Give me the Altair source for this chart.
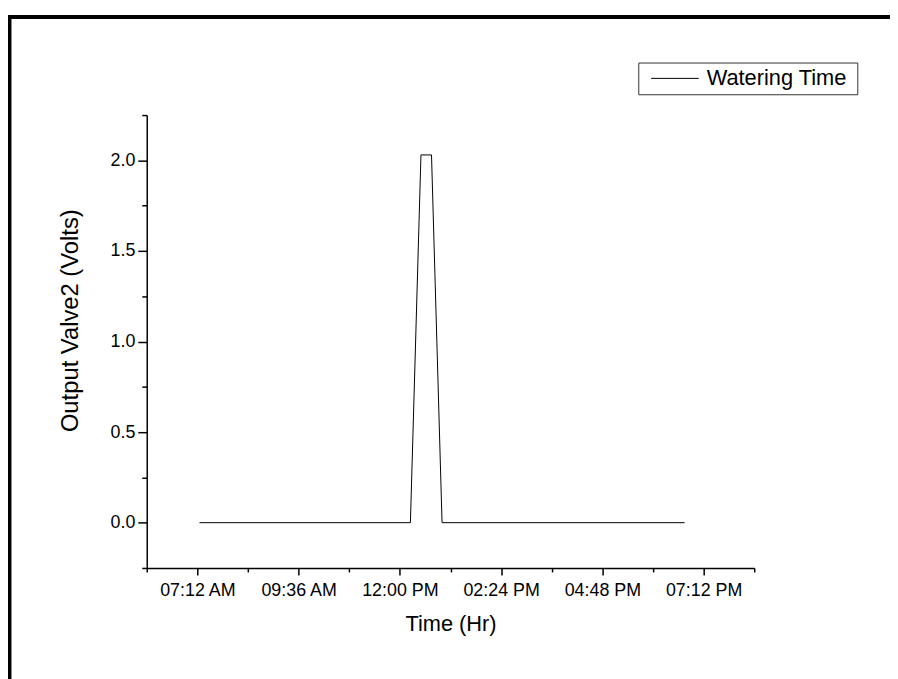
import altair as alt
import pandas as pd

# ---- data ----
times = ["07:15", "12:15", "12:30", "12:45", "13:00", "18:45"]
volts = [0.0, 0.0, 2.03, 2.03, 0.0, 0.0]
series_name = "Watering Time"

x_major = ["07:12", "09:36", "12:00", "14:24", "16:48", "19:12"]
x_minor = ["06:00", "08:24", "10:48", "13:12", "15:36", "18:00", "20:24"]
x_domain = ["06:00", "20:24"]
y_major = [0.0, 0.5, 1.0, 1.5, 2.0]
y_minor = [-0.25, 0.25, 0.75, 1.25, 1.75, 2.25]
y_domain = [-0.25, 2.25]

FONT = "Liberation Sans"
W, H = 613, 457
PAD_L, PAD_T = 140, 105
TOTAL_W, TOTAL_H = 890, 671


def dt(hm):
    h, m = hm.split(":")
    return alt.DateTime(year=2024, month=1, date=1, hours=int(h), minutes=int(m))


df = pd.DataFrame({
    "t": ["2024-01-01T" + t + ":00" for t in times],
    "v": volts,
    "s": [series_name] * len(times),
})

xs = alt.Scale(domain=[dt(d) for d in x_domain], nice=False)
ys = alt.Scale(domain=y_domain, nice=False, zero=False)

x_axis_major = alt.Axis(
    orient="bottom", values=[dt(v) for v in x_major], format="%I:%M %p",
    title="Time (Hr)", titleFont=FONT, titleFontSize=22, titleFontWeight="normal",
    titleColor="black", titleY=46, titleBaseline="top",
    labelFont=FONT, labelFontSize=18, labelColor="black", labelPadding=7,
    tickSize=7, tickWidth=1.5, tickColor="black",
    domainColor="black", domainWidth=1.5, grid=False, labelFlush=False,
    labelOverlap=False,
)
y_axis_major = alt.Axis(
    orient="left", values=y_major, format=".1f",
    title="Output Valve2 (Volts)", titleFont=FONT, titleFontSize=24,
    titleFontWeight="normal", titleColor="black", titleX=-65, titleY=207,
    titleAngle=270, titleBaseline="bottom", titleAlign="center",
    labelFont=FONT, labelFontSize=18, labelColor="black", labelPadding=3,
    tickSize=9, tickWidth=1.5, tickColor="black",
    domainColor="black", domainWidth=1.5, grid=False, labelFlush=False,
)
x_axis_minor = alt.Axis(
    orient="bottom", values=[dt(v) for v in x_minor], labels=False, title=None,
    tickSize=4, tickWidth=1.5, tickColor="black", domain=False, grid=False,
)
y_axis_minor = alt.Axis(
    orient="left", values=y_minor, labels=False, title=None,
    tickSize=5, tickWidth=1.5, tickColor="black", domain=False, grid=False,
)

line = alt.Chart(df).mark_line(strokeWidth=1).encode(
    x=alt.X("t:T", scale=xs, axis=x_axis_major),
    y=alt.Y("v:Q", scale=ys, axis=y_axis_major),
    color=alt.Color(
        "s:N",
        scale=alt.Scale(range=["black"]),
        legend=alt.Legend(
            title="\u00a0", titleOrient="right", titlePadding=6, titleFontSize=8,
            orient="none", legendX=496, legendY=-53,
            symbolType="M-4,0H4", symbolSize=144, symbolStrokeWidth=1,
            symbolFillColor="transparent",
            labelFont=FONT, labelFontSize=22, labelColor="black",
            labelOffset=21, padding=5, symbolOffset=21,
            strokeColor="#333333", fillColor="white",
        ),
    ),
)

minor = alt.Chart(df).mark_line(opacity=0).encode(
    x=alt.X("t:T", scale=xs, axis=x_axis_minor),
    y=alt.Y("v:Q", scale=ys, axis=y_axis_minor),
)

one = alt.Data(values=[{"k": 0}])
frame_top = alt.Chart(one).mark_rule(color="black", strokeWidth=4).encode(
    x=alt.value(-141), x2=alt.value(TOTAL_W), y=alt.value(-99)
)
frame_left = alt.Chart(one).mark_rule(color="black", strokeWidth=4).encode(
    x=alt.value(-138.5), y=alt.value(-101), y2=alt.value(TOTAL_H)
)

chart = alt.layer(line, minor, frame_top, frame_left).resolve_axis(
    x="independent", y="independent"
).properties(
    width=W, height=H, background="white",
    padding={"left": PAD_L, "top": PAD_T,
             "right": TOTAL_W - PAD_L - W, "bottom": TOTAL_H - PAD_T - H},
    autosize=alt.AutoSizeParams(type="none"),
).configure_view(stroke=None)

chart.save("out.html", embed_options={"renderer": "svg", "actions": False})
